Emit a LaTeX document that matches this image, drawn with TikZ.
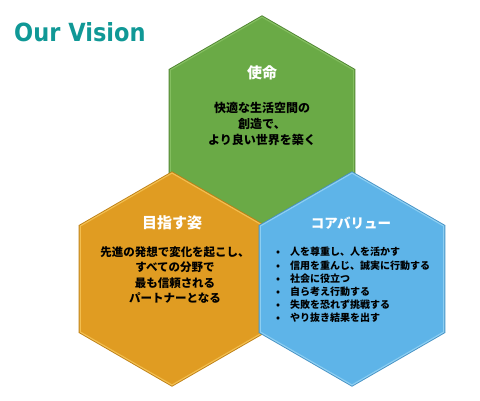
\documentclass[tikz,border=0pt]{standalone}
\usepackage{fontspec}
\newfontfamily\jpfont{Noto Sans CJK JP}
\newfontfamily\titlefont{DejaVu Sans}
\usetikzlibrary{shapes.geometric}

\definecolor{visionteal}{RGB}{16,152,150}
\definecolor{missiongreen}{RGB}{106,170,70}
\definecolor{missionedge}{RGB}{78,132,48}
\definecolor{missionlight}{RGB}{132,190,96}
\definecolor{goalorange}{RGB}{224,156,34}
\definecolor{goaledge}{RGB}{190,128,20}
\definecolor{goallight}{RGB}{242,190,80}
\definecolor{valueblue}{RGB}{94,180,232}
\definecolor{valueedge}{RGB}{70,146,196}
\definecolor{valuelight}{RGB}{140,206,242}

\begin{document}
\begin{tikzpicture}[
  x=1pt, y=-1pt,
  hexcell/.style={regular polygon, regular polygon sides=6, shape border rotate=30,
    minimum size=212pt, inner sep=0pt, line width=1.2pt},
  hexgreen/.style={hexcell, fill=missiongreen, draw=missionlight,
    preaction={draw=missionedge, line width=3pt}},
  hexorange/.style={hexcell, fill=goalorange, draw=goallight,
    preaction={draw=goaledge, line width=3pt}},
  hexblue/.style={hexcell, fill=valueblue, draw=valuelight,
    preaction={draw=valueedge, line width=3pt}},
  heading/.style={font=\jpfont\bfseries\fontsize{15}{15}\selectfont, text=white, inner sep=0pt},
  bodytext/.style={font=\jpfont\bfseries\fontsize{12}{16}\selectfont, text=black, align=center, inner sep=0pt},
  bullettext/.style={font=\jpfont\bfseries\fontsize{10}{13.2}\selectfont, text=black, align=left, inner sep=0pt}
]
  \useasboundingbox (0,0) rectangle (480,400);
  \node[font=\titlefont\bfseries\fontsize{25}{25}\selectfont, text=visionteal, anchor=base west, inner sep=0pt]
    (title) at (14,41) {\scalebox{0.9}[1]{Our Vision}};

  % honeycomb
  \node[hexgreen] (mission) at (262,123) {};
  \node[hexorange] (goal) at (172,279) {};
  \node[hexblue] (values) at (352,279) {};

  \node[heading] (missionhead) at (262,73) {使命};
  \node[bodytext] (missionbody) at (262,124) {快適な生活空間の\\創造で、\\より良い世界を築く};

  \node[heading] (goalhead) at (172,223) {目指す姿};
  \node[bodytext, font=\jpfont\bfseries\fontsize{11.5}{15.3}\selectfont] (goalbody) at (175,275)
    {先進の発想で変化を起こし、\\すべての分野で\\最も信頼される\\パートナーとなる};

  \node[heading, font=\jpfont\bfseries\fontsize{13.5}{13.5}\selectfont] (valueshead) at (351,223) {コアバリュー};
  \node[bullettext, anchor=west] (valuesbody) at (276,285) {%
    \makebox[14pt][l]{•}人を尊重し、人を活かす\\
    \makebox[14pt][l]{•}信用を重んじ、誠実に行動する\\
    \makebox[14pt][l]{•}社会に役立つ\\
    \makebox[14pt][l]{•}自ら考え行動する\\
    \makebox[14pt][l]{•}失敗を恐れず挑戦する\\
    \makebox[14pt][l]{•}やり抜き結果を出す};
\end{tikzpicture}
\end{document}
